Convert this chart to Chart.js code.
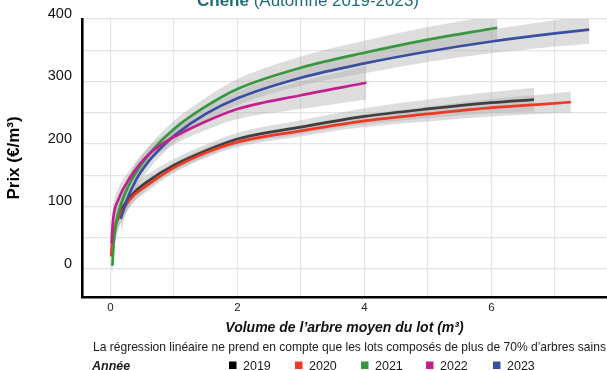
<!DOCTYPE html>
<html><head><meta charset="utf-8">
<script src="https://cdn.jsdelivr.net/npm/chart.js@4.4.1/dist/chart.umd.min.js"></script>
<style>html,body{margin:0;padding:0;background:#fff;overflow:hidden}#wrap{position:relative;width:607px;height:370px}</style>
</head><body><div id="wrap"><canvas id="c" width="607" height="370"></canvas></div>
<script>
// ---- data ----
const years = ['2019', '2020', '2021', '2022', '2023'];

const x2019 = [0.08, 0.12, 0.16, 0.2, 0.37, 0.6, 1.0, 1.52, 2.0, 3.0, 4.0, 5.0, 6.0, 6.67];
const y2019 = [72, 83, 92, 100, 122, 141, 166, 190, 208, 227, 244, 256, 266, 271];
const hi2019 = [97, 104, 111, 117, 136, 153, 176, 200, 218, 238, 257, 271, 283, 290];
const lo2019 = [47, 62, 73, 83, 108, 129, 156, 180, 198, 216, 231, 241, 249, 252];

const x2020 = [0.01, 0.025, 0.05, 0.1, 0.15, 0.2, 0.37, 0.58, 1.0, 1.5, 2.0, 3.0, 4.0, 5.0, 6.0, 7.0, 7.25];
const y2020 = [20, 40, 58, 76, 87, 96, 118, 134, 162, 186, 203, 221, 237, 248, 258, 265, 267];
const hi2020 = [50, 65, 79, 93, 102, 110, 129, 144, 170, 194, 211, 230, 247, 260, 272, 281, 284];
const lo2020 = [-10, 15, 37, 59, 72, 82, 107, 124, 154, 178, 195, 212, 227, 236, 244, 249, 250];

const x2021 = [0.03, 0.05, 0.09, 0.17, 0.33, 0.62, 1.0, 1.5, 2.0, 3.0, 4.0, 5.0, 6.09];
const y2021 = [5, 41, 73, 105, 142, 185, 224, 260, 288, 322, 346, 367, 386];
const hi2021 = [30, 63, 93, 122, 157, 198, 237, 274, 304, 340, 365, 387, 407];
const lo2021 = [-20, 19, 53, 88, 127, 172, 211, 246, 272, 304, 327, 347, 365];

const x2022 = [0.016, 0.04, 0.12, 0.3, 0.62, 0.98, 1.5, 2.0, 3.0, 4.03];
const y2022 = [41, 78, 110, 145, 185, 210, 236, 256, 278, 298];
const hi2022 = [67, 99, 128, 158, 197, 222, 250, 272, 300, 325];
const lo2022 = [15, 57, 92, 132, 173, 198, 222, 240, 256, 271];

const x2023 = [0.16, 0.25, 0.4, 0.6, 0.89, 1.0, 1.5, 2.0, 3.0, 4.0, 5.0, 6.0, 7.0, 7.54];
const y2023 = [80, 108, 142, 172, 203, 213, 248, 273, 306, 329, 348, 364, 377, 383];
const hi2023 = [102, 126, 157, 185, 215, 224, 259, 284, 319, 345, 365, 383, 398, 406];
const lo2023 = [58, 90, 127, 159, 191, 202, 237, 262, 293, 313, 331, 345, 356, 360];

const xTickValues = [0, 1, 2, 3, 4, 5, 6, 7];
const xTickLabels = ['0', '', '2', '', '4', '', '6', ''];
const yTickValues = [0, 50, 100, 150, 200, 250, 300, 350, 400];
const yTickLabels = ['0', '', '100', '', '200', '', '300', '', '400'];

const titleBold = 'Chêne';
const titleRest = ' (Automne 2019-2023)';
const xTitle = 'Volume de l’arbre moyen du lot (m³)';
const yTitle = 'Prix (€/m³)';
const caption = 'La régression linéaire ne prend en compte que les lots composés de plus de 70% d’arbres sains';
const legendTitle = 'Année';

// ---- styling ----
const FONT = "'Liberation Sans', Arial, Helvetica, sans-serif";
const lineColors = ['#3f3f3f', '#ee3a22', '#36973f', '#c41f8e', '#3a4ea2'];
const legendColors = ['#000000', '#ee3a22', '#36973f', '#c41f8e', '#3a4ea2'];
const BAND = 'rgba(175,175,175,0.42)';

const series = [
  { x: x2019, y: y2019, hi: hi2019, lo: lo2019 },
  { x: x2020, y: y2020, hi: hi2020, lo: lo2020 },
  { x: x2021, y: y2021, hi: hi2021, lo: lo2021 },
  { x: x2022, y: y2022, hi: hi2022, lo: lo2022 },
  { x: x2023, y: y2023, hi: hi2023, lo: lo2023 }
];
const pts = (xs, ys) => xs.map((v, k) => ({ x: v, y: ys[k] }));

const datasets = [];
series.forEach((s, i) => {
  datasets.push({ label: years[i] + ' haut', data: pts(s.x, s.hi), borderColor: 'transparent', borderWidth: 0,
    backgroundColor: BAND, fill: '+1', pointRadius: 0, cubicInterpolationMode: 'monotone', order: 20 });
  datasets.push({ label: years[i] + ' bas', data: pts(s.x, s.lo), borderColor: 'transparent', borderWidth: 0,
    backgroundColor: BAND, fill: false, pointRadius: 0, cubicInterpolationMode: 'monotone', order: 20 });
});
const lineOrder = [5, 4, 3, 1, 2];
series.forEach((s, i) => {
  datasets.push({ label: years[i], data: pts(s.x, s.y), borderColor: lineColors[i], borderWidth: 2.7,
    fill: false, pointRadius: 0, cubicInterpolationMode: 'monotone', order: lineOrder[i], borderCapStyle: 'butt' });
});

const textPlugin = {
  id: 'texts',
  afterDraw(chart) {
    const ctx = chart.ctx;
    ctx.save();
    // title (clipped at the top like the reference)
    ctx.textBaseline = 'alphabetic';
    ctx.textAlign = 'left';
    ctx.fillStyle = '#1d6c78';
    ctx.font = `bold 17px ${FONT}`;
    const w1 = ctx.measureText(titleBold).width;
    ctx.font = `17px ${FONT}`;
    const w2 = ctx.measureText(titleRest).width;
    const tx = 308 - (w1 + w2) / 2;
    ctx.font = `bold 17px ${FONT}`;
    ctx.fillText(titleBold, tx, 6);
    ctx.font = `17px ${FONT}`;
    ctx.fillText(titleRest, tx + w1, 6);
    // caption
    ctx.fillStyle = '#1a1a1a';
    ctx.font = `12.4px ${FONT}`;
    const cw = ctx.measureText(caption).width;
    const cs = 12.4 * 513 / cw;
    ctx.font = `${cs.toFixed(2)}px ${FONT}`;
    ctx.fillText(caption, 93, 351);
    // legend
    ctx.font = `italic bold 12.5px ${FONT}`;
    ctx.fillStyle = '#1a1a1a';
    ctx.fillText(legendTitle, 92, 370);
    const sqX = [229, 295, 361, 426, 493];
    ctx.font = `12.5px ${FONT}`;
    years.forEach((yr, i) => {
      ctx.fillStyle = legendColors[i];
      ctx.fillRect(sqX[i], 361.5, 7.5, 7.5);
      ctx.fillStyle = '#1a1a1a';
      ctx.fillText(yr, sqX[i] + 14, 370);
    });
    ctx.restore();
  }
};

new Chart(document.getElementById('c'), {
  type: 'line',
  data: { datasets },
  plugins: [textPlugin],
  options: {
    responsive: false,
    animation: false,
    layout: { padding: { top: 19, left: 0, right: 0, bottom: 0 } },
    plugins: {
      legend: { display: false },
      tooltip: { enabled: false },
      filler: { drawTime: 'beforeDatasetsDraw', propagate: false }
    },
    scales: {
      x: {
        type: 'linear', min: -0.449, max: 7.82,
        afterBuildTicks: s => { s.ticks = xTickValues.map(v => ({ value: v })); },
        afterFit: s => { s.height = 73; },
        ticks: { callback: (v, i) => xTickLabels[i], autoSkip: false, maxRotation: 0,
          font: { family: FONT, size: 11.5 }, color: '#222', padding: 4 },
        grid: { color: '#e4e4e4', lineWidth: 1.2, drawTicks: false },
        border: { color: '#000', width: 2.6 },
        title: { display: true, text: xTitle, color: '#111',
          font: { family: FONT, size: 14, weight: 'bold', style: 'italic' },
          padding: { top: 0, bottom: 33.6 } }
      },
      y: {
        type: 'linear', min: -45, max: 400,
        afterBuildTicks: s => { s.ticks = yTickValues.map(v => ({ value: v })); },
        afterFit: s => { s.width = 82; },
        ticks: { callback: (v, i) => yTickLabels[i], autoSkip: false,
          font: { family: FONT, size: 14.5 }, color: '#111', padding: 10, labelOffset: -5 },
        grid: { color: '#e4e4e4', lineWidth: 1.2, drawTicks: false },
        border: { color: '#000', width: 2.6 },
        title: { display: true, text: yTitle, color: '#000',
          font: { family: FONT, size: 17, weight: 'bold' }, padding: { top: 4, bottom: 0 } }
      }
    }
  }
});
</script></body></html>
